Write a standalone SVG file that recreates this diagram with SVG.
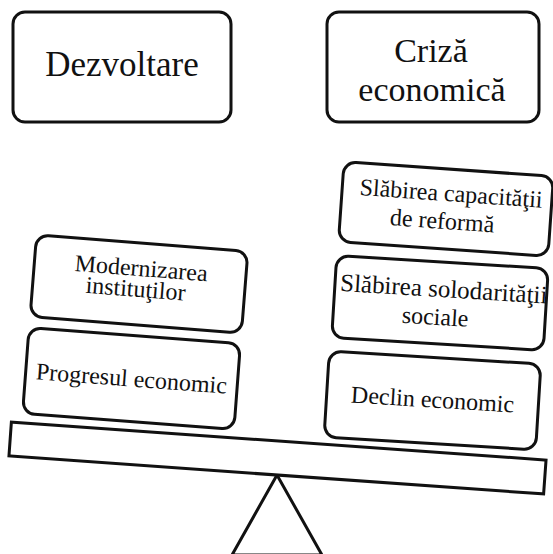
<svg xmlns="http://www.w3.org/2000/svg" width="553" height="554" viewBox="0 0 553 554">
<style>
.box{fill:#fff;stroke:#111;stroke-width:3}
text{font-family:"Liberation Serif","Times New Roman",serif;fill:#111;text-anchor:middle}
.big{font-size:35px}
.big2{font-size:34px}
.sm{font-size:24px}
</style>
<rect width="553" height="554" fill="#fff"/>
<g id="dezvoltare">
<rect class="box" x="13" y="12" width="218" height="110" rx="12"/>
<text class="big" x="122" y="76">Dezvoltare</text>
</g>
<g id="criza">
<rect class="box" x="327" y="12" width="212" height="110" rx="12"/>
<text class="big2" x="431" y="62">Criză</text>
<text class="big2" x="432" y="101">economică</text>
</g>
<g id="balanta">
<polygon points="277,475 232,555 322,555" fill="none" stroke="#111" stroke-width="3"/>
<g transform="translate(277.5,458) rotate(4.06)">
<rect class="box" x="-268" y="-17" width="536" height="34"/>
</g>
</g>
<g id="modernizarea" transform="translate(139,284) rotate(4.5)">
<rect class="box" x="-106" y="-41" width="212" height="82" rx="12"/>
<text class="sm" x="1" y="-8">Modernizarea</text>
<text class="sm" x="-3" y="13">instituţilor</text>
</g>
<g id="progresul" transform="translate(131.5,378.5) rotate(4.3)">
<rect class="box" x="-106" y="-43" width="212" height="86" rx="12"/>
<text class="sm" x="0" y="8">Progresul economic</text>
</g>
<g id="capacitatii" transform="translate(446,209) rotate(4)">
<rect class="box" x="-105" y="-40" width="210" height="80" rx="12"/>
<text class="sm" x="4" y="-8">Slăbirea capacităţii</text>
<text class="sm" x="-3" y="20">de reformă</text>
</g>
<g id="solidaritatii" transform="translate(440,303) rotate(3.5)">
<rect class="box" x="-106" y="-41" width="212" height="82" rx="12"/>
<text style="font-size:25px" x="3" y="-6">Slăbirea solodarităţii</text>
<text class="sm" x="-4" y="22">sociale</text>
</g>
<g id="declin" transform="translate(432.5,400.5) rotate(3.5)">
<rect class="box" x="-106" y="-43" width="212" height="86" rx="12"/>
<text class="sm" x="0" y="7">Declin economic</text>
</g>
<g id="connectors"></g>
</svg>
